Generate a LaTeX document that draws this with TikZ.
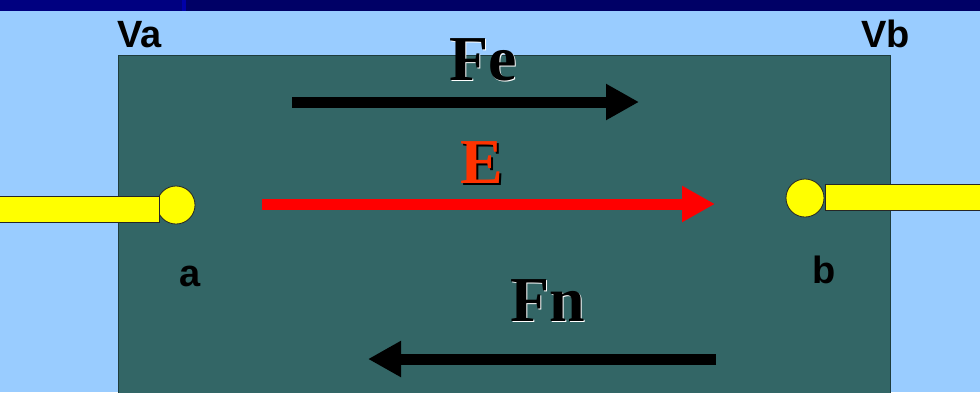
\documentclass[tikz,border=0pt]{standalone}
\usepackage{fontspec}
\setmainfont{Liberation Serif}
\setsansfont{Liberation Sans}
\usetikzlibrary{arrows.meta}
\definecolor{skyblue}{HTML}{99CCFF}
\definecolor{slidenavy}{HTML}{000080}
\definecolor{slidenavydark}{HTML}{000066}
\definecolor{navystripe}{HTML}{0000A8}
\definecolor{plateteal}{HTML}{336666}
\definecolor{plateedge}{HTML}{1E3C3C}
\definecolor{wireyellow}{HTML}{FFFF00}
\definecolor{fieldred}{HTML}{FF0000}
\definecolor{labelred}{HTML}{FF3300}
% text with a shadow copy behind it: shadow colour, offset, text
\newcommand{\castshadow}[3]{\makebox[0pt][l]{\hspace{#2}\raisebox{-#2}{\color{#1}#3}}#3}
\tikzset{
  force/.style={line width=11pt,-{Triangle[length=33pt,width=34pt]}},
  forcelabel/.style={font=\fontsize{64}{64}\selectfont\bfseries,inner sep=0pt,anchor=base west},
  potlabel/.style={font=\sffamily\bfseries\fontsize{38}{38}\selectfont,inner sep=0pt,anchor=base west},
  wire/.style={draw=black!85,fill=wireyellow,line width=0.8pt}
}

\begin{document}
\begin{tikzpicture}[x=1pt,y=-1pt]
        \clip (0,0) rectangle (980,392);
        \fill[skyblue] (0,0) rectangle (980,392);
        % title band
        \fill[slidenavydark] (0,0) rectangle (980,10.5);
        \fill[slidenavy] (0,0) rectangle (182,10.5);
        \fill[navystripe] (182,0) rectangle (186,10.5);
        % plate
        \draw[plateedge,fill=plateteal,line width=1pt] (118,55) rectangle (890,400);
        % terminals
        \draw[wire] (176,205) circle (19);
        \draw[wire] (805,198) circle (19);
        \draw[wire] (-2,196) rectangle (159,222);
        \draw[wire] (825,184) rectangle (982,210);
        % potentials
        \node[potlabel] (va) at (117,47) {Va};
        \node[potlabel] (vb) at (861,47) {Vb};
        \node[potlabel] (pa) at (179,286) {a};
        \node[potlabel] (pb) at (812,283) {b};
        % forces and field
        \coordinate (fe start) at (292,102);
        \coordinate (fe end) at (639,102);
        \coordinate (e start) at (262,204);
        \coordinate (e end) at (715,204);
        \coordinate (fn start) at (716,359);
        \coordinate (fn end) at (368,359);
        \draw[force,black] (fe start) -- (fe end);
        \draw[force,fieldred] (e start) -- (e end);
        \draw[force,black] (fn start) -- (fn end);
        \node[forcelabel,black] (fe) at (449,80) {\castshadow{white}{1.5pt}{Fe}};
        \node[forcelabel,labelred] (e) at (460,183) {\castshadow{black}{2pt}{E}};
        \node[forcelabel,black] (fn) at (510,321) {\castshadow{white}{1.5pt}{Fn}};
      \end{tikzpicture}
\end{document}
